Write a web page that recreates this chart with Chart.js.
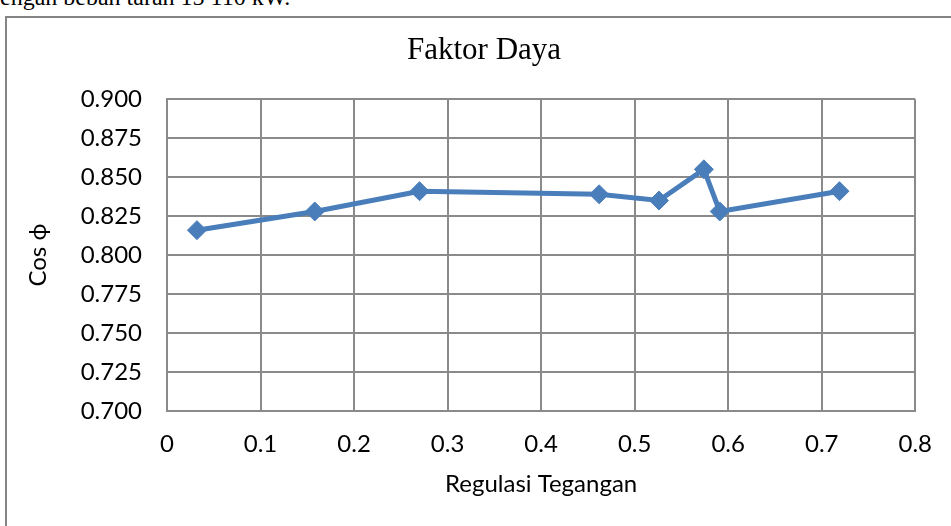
<!DOCTYPE html>
<html>
<head>
<meta charset="utf-8">
<title>Faktor Daya</title>
<script src="https://cdn.jsdelivr.net/npm/chart.js"></script>
<style>
  html, body { margin: 0; padding: 0; background: #fff; overflow: hidden; }
  #page { position: relative; width: 951px; height: 526px; overflow: hidden; }
  #lead { position: absolute; left: -12px; top: -15px; font: 24px/24px "Liberation Serif", serif; white-space: nowrap; color: #000; }
  #frame { position: absolute; left: 5px; top: 16px; width: 1000px; height: 600px; border: 2px solid #858585; }
  #myChart { position: absolute; left: 0; top: 0; }
</style>
</head>
<body>
<div id="page">
  <div id="lead">dengan beban tarah 15 110 kW.</div>
  <div id="frame"></div>
  <canvas id="myChart" width="951" height="526"></canvas>
</div>
<script>
// values
const regulasi = [0.032, 0.158, 0.270, 0.462, 0.526, 0.574, 0.591, 0.719];
const faktorDaya = [0.816, 0.828, 0.841, 0.839, 0.835, 0.855, 0.828, 0.841];
const xTicks = [0, 0.1, 0.2, 0.3, 0.4, 0.5, 0.6, 0.7, 0.8];
const yTicks = [0.700, 0.725, 0.750, 0.775, 0.800, 0.825, 0.850, 0.875, 0.900];

const gridColor = "#8a8a8a";
const blue = "#4a7ebb";

Chart.defaults.font.family = "Lato, 'Open Sans', sans-serif";
Chart.defaults.color = "#000";

const points = regulasi.map((x, i) => ({ x: x, y: faktorDaya[i] }));

new Chart(document.getElementById("myChart").getContext("2d"), {
  type: "scatter",
  data: {
    datasets: [{
      label: "Faktor Daya",
      data: points,
      showLine: true,
      borderColor: blue,
      backgroundColor: blue,
      borderWidth: 5,
      tension: 0,
      pointStyle: "rectRot",
      pointRadius: 9.5,
      pointHoverRadius: 9.5,
      pointBorderWidth: 1,
      pointBorderColor: blue,
      pointBackgroundColor: blue
    }]
  },
  options: {
    responsive: false,
    animation: false,
    events: [],
    layout: { padding: { left: 52, right: 35, top: 0, bottom: 0 } },
    plugins: {
      legend: { display: false },
      tooltip: { enabled: false },
      title: {
        display: true,
        text: "Faktor Daya",
        color: "#000",
        font: { family: "'Liberation Serif', serif", size: 31, weight: "normal", lineHeight: 1.2 },
        padding: { top: 32, bottom: 30 }
      }
    },
    scales: {
      x: {
        type: "linear",
        min: 0,
        max: 0.8,
        afterBuildTicks: (s) => { s.ticks = xTicks.map(v => ({ value: v })); },
        afterFit: (s) => { s.height = 115; },
        grid: { color: gridColor, lineWidth: 2, drawTicks: false },
        border: { color: gridColor, width: 2 },
        ticks: { padding: 19, font: { size: 24 }, callback: (v) => String(Number(v.toFixed(1))) },
        title: {
          display: true,
          text: "Regulasi Tegangan",
          font: { size: 24 },
          padding: { top: 0, bottom: 27 }
        }
      },
      y: {
        type: "linear",
        min: 0.7,
        max: 0.9,
        afterBuildTicks: (s) => { s.ticks = yTicks.map(v => ({ value: v })); },
        afterFit: (s) => { s.width = 115; },
        grid: { color: gridColor, lineWidth: 2, drawTicks: false },
        border: { color: gridColor, width: 2 },
        ticks: { padding: 25, font: { size: 24 }, callback: (v) => v.toFixed(3) },
        title: {
          display: true,
          text: "Cos ф",
          font: { size: 24 },
          padding: { top: -28, bottom: 0 }
        }
      }
    }
  }
});
</script>
</body>
</html>
